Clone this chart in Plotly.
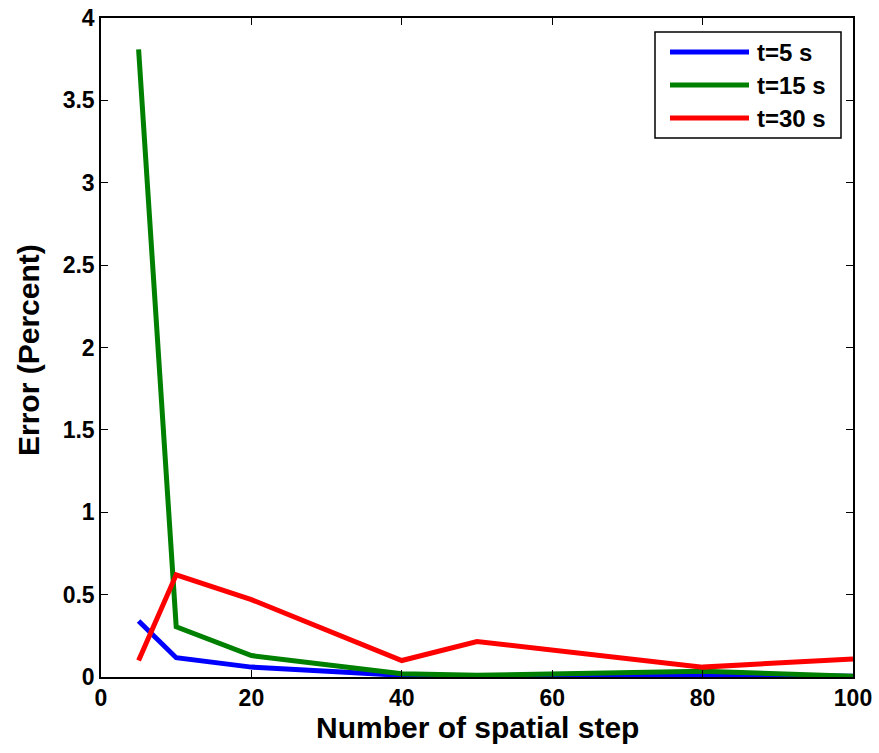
import plotly.graph_objects as go

# Spatial discretisation study: error vs number of spatial steps
steps = [5, 10, 20, 40, 50, 80, 100]
err_t5 = [0.34, 0.117, 0.06, 0.01, 0.005, 0.015, 0.005]
err_t15 = [3.81, 0.305, 0.13, 0.02, 0.01, 0.035, 0.005]
err_t30 = [0.10, 0.62, 0.47, 0.10, 0.215, 0.06, 0.11]

series_names = ["t=5 s", "t=15 s", "t=30 s"]
series_colors = ["#0000ff", "#008000", "#ff0000"]
series_values = [err_t5, err_t15, err_t30]

x_ticks = [0, 20, 40, 60, 80, 100]
y_ticks = [0, 0.5, 1, 1.5, 2, 2.5, 3, 3.5, 4]
y_tick_text = ["0", "0.5", "1", "1.5", "2", "2.5", "3", "3.5", "4"]

x_title = "Number of spatial step"
y_title = "Error (Percent)"

FONT = "Liberation Sans, Arial, sans-serif"

fig = go.Figure()
for name, color, vals in zip(series_names, series_colors, series_values):
    fig.add_trace(go.Scatter(
        x=steps, y=vals, mode="lines", name=name,
        line=dict(color=color, width=5), showlegend=False,
    ))

axis_common = dict(
    showgrid=False, zeroline=False, showline=True, linecolor="black",
    linewidth=1.5, mirror="ticks", ticks="inside", ticklen=7,
    tickcolor="black", tickwidth=1, automargin=False,
    tickfont=dict(family=FONT, size=23, color="black", weight="bold"),
)

fig.update_xaxes(range=[0, 100], tickvals=x_ticks, **axis_common)
fig.update_yaxes(range=[0, 4], tickvals=y_ticks, ticktext=y_tick_text,
                 **axis_common)

W, H = 879, 753
ml, mr, mt, mb = 101, 26, 18, 76
pw, ph = W - ml - mr, H - mt - mb

def px(x):
    return (x - ml) / pw

def py(y):
    return (H - mb - y) / ph

# Axis titles
fig.add_annotation(xref="paper", yref="paper", x=px(477), y=py(727),
                   xanchor="center", yanchor="middle", showarrow=False,
                   text="<b>" + x_title + "</b>",
                   font=dict(family=FONT, size=30, color="black"))
fig.add_annotation(xref="paper", yref="paper", x=px(28), y=py(350),
                   xanchor="center", yanchor="middle", showarrow=False,
                   textangle=-90, text="<b>" + y_title + "</b>",
                   font=dict(family=FONT, size=30, color="black"))

# Legend box
fig.add_shape(type="rect", xref="paper", yref="paper",
              x0=px(655), x1=px(841), y0=py(138), y1=py(32),
              line=dict(color="black", width=1.5), fillcolor="white", layer="above")
for i, (name, color) in enumerate(zip(series_names, series_colors)):
    yc = 52 + i * 33
    fig.add_shape(type="line", xref="paper", yref="paper",
                  x0=px(670), x1=px(749), y0=py(yc), y1=py(yc),
                  line=dict(color=color, width=5), layer="above")
    fig.add_annotation(xref="paper", yref="paper", x=px(755), y=py(yc),
                       xanchor="left", yanchor="middle", showarrow=False,
                       text="<b>" + name + "</b>",
                       font=dict(family=FONT, size=24, color="black"))

fig.update_layout(
    width=W, height=H,
    margin=dict(l=ml, r=mr, t=mt, b=mb, autoexpand=False),
    paper_bgcolor="white", plot_bgcolor="white",
)

fig.write_html("out.html")
